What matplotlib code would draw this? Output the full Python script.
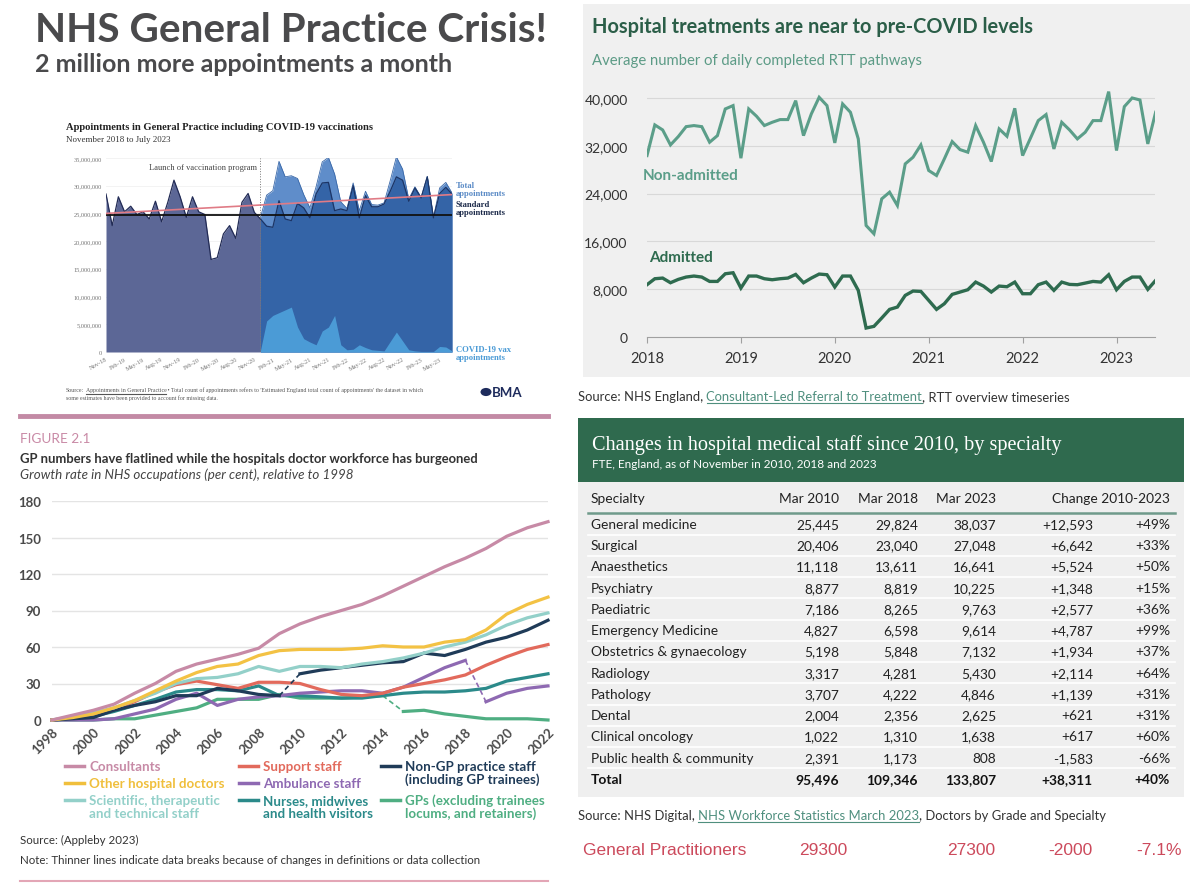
import matplotlib
matplotlib.use("Agg")
import matplotlib.pyplot as plt
from matplotlib.patches import Rectangle, Circle
from matplotlib.lines import Line2D
import matplotlib.ticker as mticker

plt.rcParams['font.family'] = ['Lato', 'DejaVu Sans']

W, H = 1200, 887

# ---------------- data: BMA appointments chart (millions) ----------------
bma_tick_labels = ["Nov-18", "Feb-19", "May-19", "Aug-19", "Nov-19", "Feb-20", "May-20",
                   "Aug-20", "Nov-20", "Feb-21", "May-21", "Aug-21", "Nov-21", "Feb-22",
                   "May-22", "Aug-22", "Nov-22", "Feb-23", "May-23"]
# Nov-18 .. Jul-23, one value a month
standard_appts = [28.5, 22.8, 28.0, 25.3, 26.3, 24.8, 25.3, 24.0, 27.2, 23.5, 27.0, 31.0,
                  28.0, 24.3, 28.0, 25.3, 24.8, 16.7, 17.0, 21.3, 22.8, 20.5, 27.0, 28.6,
                  25.2, 24.0, 22.7, 22.5, 27.3, 24.0, 23.7, 26.8, 26.0, 24.2, 28.5, 30.5,
                  30.6, 25.5, 25.8, 25.5, 30.0, 24.2, 28.2, 26.2, 26.2, 26.7, 29.0, 31.6,
                  31.0, 27.2, 29.6, 27.8, 31.6, 24.2, 28.6, 29.7, 28.5]
launch_month = 25  # Dec-20
# Dec-20 .. Jul-23
vax_appts = [0.3, 5.6, 6.6, 7.1, 7.6, 8.1, 4.5, 2.4, 1.8, 1.3, 3.8, 4.5, 6.6, 1.3, 0.4, 0.5,
             1.3, 0.8, 0.4, 0.3, 0.2, 1.9, 3.6, 2.0, 0.4, 0.2, 0.1, 0.1, 0.1, 1.0, 0.9, 0.2]
baseline_appts = 24.8
trend_appts = [25.0, 28.4]

# ---------------- data: RTT pathways ----------------
non_admitted = [30360, 35490, 34650, 32140, 33540, 35200, 35380, 35200, 32590, 33700, 38160,
                38720, 29920, 38160, 36940, 35380, 35930, 36380, 36380, 39550, 33700, 37330,
                40110, 38720, 32480, 39000, 37600, 33150, 18660, 17270, 23120, 24230, 22000,
                28970, 30080, 32140, 27860, 27020, 29810, 32700, 31360, 30920, 35380, 32590,
                29360, 34820, 33590, 38270, 30360, 33260, 36210, 37220, 31470, 35930, 34650,
                33150, 34260, 36210, 36210, 41060, 31200, 38550, 40000, 39660, 32310, 37600]
admitted = [8750, 9750, 9860, 9080, 9640, 10030, 10200, 10030, 9300, 9300, 10580, 10750,
            8190, 10200, 10200, 9750, 9580, 9750, 9860, 10470, 9080, 9860, 10530, 10420,
            8360, 10200, 10200, 7800, 1500, 1780, 3180, 4620, 5010, 6960, 7690, 7630, 6130,
            4620, 5570, 7130, 7520, 7910, 9190, 8520, 7520, 8520, 8410, 9190, 7240, 7240,
            8750, 9190, 7800, 9190, 8800, 8750, 9020, 9300, 9190, 10420, 7910, 9300, 10030,
            10030, 7970, 9470]
rtt_start_year = 2018

# ---------------- data: NHS occupations growth (% vs 1998) ----------------
years = list(range(1998, 2023))
consultants = [0, 4, 8, 13, 22, 30, 40, 46, 50, 54, 59, 71, 79, 85, 90, 95, 102, 110, 118,
               126, 133, 141, 151, 158, 163]
other_doctors = [0, 2, 5, 10, 16, 24, 32, 39, 44, 46, 53, 57, 58, 58, 58, 59, 61, 60, 60,
                 64, 66, 74, 87, 95, 101]
scientific = [0, 3, 6, 10, 16, 22, 30, 34, 35, 38, 44, 40, 44, 44, 43, 46, 48, 51, 55, 60,
              64, 70, 78, 84, 88]
non_gp_staff = [0, 1, 2, 8, 12, 15, 20, 20, 26, 24, 21, 20, 38, 41, 43, 45, 47, 48, 55, 53,
                58, 64, 68, 74, 82]
support = [0, 2, 5, 9, 15, 23, 29, 32, 29, 26, 31, 31, 30, 25, 21, 20, 22, 27, 30, 33, 37,
           45, 52, 58, 62]
ambulance = [0, 0, 0, 1, 5, 9, 17, 22, 12, 17, 19, 20, 22, 23, 24, 24, 22, 27, 35, 43, 49,
             15, 22, 26, 28]
nurses = [0, 1, 3, 7, 12, 17, 23, 25, 25, 24, 28, 20, 20, 19, 18, 18, 20, 22, 23, 23, 24,
          26, 32, 35, 38]
gps = [0, 0, 0, 1, 1, 4, 7, 10, 17, 17, 17, 21, 18, 18, 18, 19, 20, 7, 8, 5, 3, 1, 1, 1, 0]
# year after which the series has a data break
non_gp_break = 2009
ambulance_break = 2018
gp_break = 2014

# ---------------- data: hospital medical staff table ----------------
specialties = ["General medicine", "Surgical", "Anaesthetics", "Psychiatry", "Paediatric",
               "Emergency Medicine", "Obstetrics & gynaecology", "Radiology", "Pathology",
               "Dental", "Clinical oncology", "Public health & community"]
mar_2010 = [25445, 20406, 11118, 8877, 7186, 4827, 5198, 3317, 3707, 2004, 1022, 2391]
mar_2018 = [29824, 23040, 13611, 8819, 8265, 6598, 5848, 4281, 4222, 2356, 1310, 1173]
mar_2023 = [38037, 27048, 16641, 10225, 9763, 9614, 7132, 5430, 4846, 2625, 1638, 808]
change_abs = [12593, 6642, 5524, 1348, 2577, 4787, 1934, 2114, 1139, 621, 617, -1583]
change_pct = [49, 33, 50, 15, 36, 99, 37, 64, 31, 31, 60, -66]
totals = [95496, 109346, 133807, 38311, 40]
gp_row = ["General Practitioners", "29300", "27300", "-2000", "-7.1%"]


def fx(x):
    return x / W


def fy(y):
    return 1 - y / H


fig = plt.figure(figsize=(12, 8.87), dpi=100)
fig.patch.set_facecolor('white')


def add_axes_px(left, top, right, bottom):
    return fig.add_axes([fx(left), fy(bottom), (right - left) / W, (bottom - top) / H])


def rect_px(x0, y0, x1, y1, color, z=0):
    fig.add_artist(Rectangle((fx(x0), fy(y1)), (x1 - x0) / W, (y1 - y0) / H,
                             transform=fig.transFigure, facecolor=color, edgecolor='none',
                             zorder=z))


def hline_px(x0, x1, y, color, lw):
    fig.add_artist(Line2D([fx(x0), fx(x1)], [fy(y), fy(y)], color=color, lw=lw,
                          transform=fig.transFigure))


def rich_text(x, y, parts, size, family='Lato'):
    r = fig.canvas.get_renderer()
    a = fig.text(0, 0, "x x", fontsize=size, family=family).get_window_extent(r).width
    b = fig.text(0, 0, "xx", fontsize=size, family=family).get_window_extent(r).width
    fig.texts[-2:] = []
    space = a - b
    for s, color, underline, gap in parts:
        t = fig.text(fx(x), fy(y), s, fontsize=size, color=color, family=family,
                     va='baseline')
        bb = t.get_window_extent(r)
        if underline:
            hline_px(bb.x0, bb.x1, y + 2.5, color, 0.8)
        x += bb.width + (space if gap else 0)


# ================= top-left: headline + BMA chart =================
fig.text(fx(35), fy(42), "NHS General Practice Crisis!", fontsize=29.2, fontweight='bold',
         color='#4a4a4c', va='baseline')
fig.text(fx(35), fy(72), "2 million more appointments a month", fontsize=18,
         fontweight='bold', color='#4a4a4c', va='baseline')

serif = 'Liberation Serif'
fig.text(fx(66), fy(130), "Appointments in General Practice including COVID-19 vaccinations",
         fontsize=7.6, fontweight='bold', family=serif, color='#222222', va='baseline')
fig.text(fx(66), fy(142), "November 2018 to July 2023", fontsize=6.4, family=serif,
         color='#333333', va='baseline')

ax1 = add_axes_px(106, 159, 452, 353)
n = len(standard_appts)
months = list(range(n))
post = months[launch_month:]
std_post = standard_appts[launch_month:]
total_post = [s + v for s, v in zip(std_post, vax_appts)]
ax1.fill_between(months[:launch_month + 1], standard_appts[:launch_month + 1], color='#5c6796',
                 lw=0)
ax1.plot(months[:launch_month + 1], standard_appts[:launch_month + 1], color='#222b55', lw=0.9)
ax1.fill_between(post, total_post, color='#5f8dca', lw=0)
ax1.plot(post, total_post, color='#3a68a8', lw=0.6)
ax1.fill_between(post, std_post, color='#3464a7', lw=0)
ax1.plot(post, std_post, color='#1c3566', lw=0.9)
ax1.fill_between(post, vax_appts, color='#4b9bd6', lw=0)
ax1.plot([0, n - 1], [baseline_appts, baseline_appts], color='#111111', lw=1.3)
ax1.plot([0, n - 1], trend_appts, color='#e07b86', lw=1.2)
ax1.axvline(launch_month - 0.1, color='#777777', lw=0.7, ls=':')
ax1.text(launch_month - 0.6, 33.4, "Launch of vaccination program", fontsize=6.1, family=serif,
         color='#444444', ha='right', va='center')
ax1.set_xlim(0, n - 1)
ax1.set_ylim(0, 35)
ax1.set_yticks(range(0, 36, 5))
ax1.yaxis.set_major_formatter(mticker.FuncFormatter(lambda v, p: f"{int(v * 1e6):,}"))
ax1.set_xticks(months[::3])
ax1.set_xticklabels(bma_tick_labels, rotation=30, ha='right', rotation_mode='anchor')
ax1.tick_params(length=0, labelsize=4.6, colors='#777777', pad=3)
for lbl in ax1.get_xticklabels() + ax1.get_yticklabels():
    lbl.set_family(serif)
ax1.grid(axis='y', color='#eeeeee', lw=0.5)
ax1.set_axisbelow(True)
for s in ax1.spines.values():
    s.set_visible(False)

fig.text(fx(456), fy(188), "Total", fontsize=6.2, fontweight='bold', family=serif,
         color='#5b8bc6', va='baseline')
fig.text(fx(456), fy(196), "appointments", fontsize=6.2, fontweight='bold', family=serif,
         color='#5b8bc6', va='baseline')
fig.text(fx(456), fy(207), "Standard", fontsize=6.2, fontweight='bold', family=serif,
         color='#1c2a4a', va='baseline')
fig.text(fx(456), fy(215), "appointments", fontsize=6.2, fontweight='bold', family=serif,
         color='#1c2a4a', va='baseline')
fig.text(fx(456), fy(352), "COVID-19 vax", fontsize=6.2, fontweight='bold', family=serif,
         color='#4b9bd6', va='baseline')
fig.text(fx(456), fy(360), "appointments", fontsize=6.2, fontweight='bold', family=serif,
         color='#4b9bd6', va='baseline')

rich_text(66, 392, [("Source:", '#555555', False, True),
                    ("Appointments in General Practice", '#555555', True, False),
                    (" \u2022 Total count of appointments refers to 'Estimated England total "
                     "count of appointments' the dataset in which", '#555555', False, False)],
          4.2, family=serif)
fig.text(fx(66), fy(400), "some estimates have been provided to account for missing data.",
         fontsize=4.2, family=serif, color='#555555', va='baseline')
fig.add_artist(Circle((fx(486), fy(393)), 5.5 / W, transform=fig.transFigure,
                      facecolor='#1d2b5c', edgecolor='none'))
fig.text(fx(492), fy(393), "BMA", fontsize=9.5, fontweight='bold', color='#1d2b5c',
         va='center')

# ================= top-right: RTT chart =================
rect_px(583, 5, 1190, 378, '#f0f0f0')
fig.text(fx(592), fy(33), "Hospital treatments are near to pre-COVID levels", fontsize=14.4,
         fontweight='bold', color='#2b5e48', va='baseline')
fig.text(fx(592), fy(65), "Average number of daily completed RTT pathways", fontsize=10.7,
         color='#5c9b86', va='baseline')

ax2 = add_axes_px(647, 87, 1155, 338)
ax2.set_facecolor('none')
rtt_x = [rtt_start_year + i / 12 for i in range(len(non_admitted))]
ax2.plot(rtt_x, non_admitted, color='#5b9e89', lw=2.2, solid_joinstyle='miter')
ax2.plot(rtt_x, admitted, color='#2e6b4f', lw=2.4, solid_joinstyle='miter')
ax2.set_xlim(2018, 2023.41)
ax2.set_ylim(0, 42000)
ax2.set_yticks(range(0, 40001, 8000))
ax2.yaxis.set_major_formatter(mticker.FuncFormatter(lambda v, p: f"{int(v):,}"))
ax2.set_xticks(range(2018, 2024))
for yv in range(8000, 40001, 8000):
    ax2.axhline(yv, color='#d8d8d8', lw=0.8, zorder=0)
for s in ['top', 'right', 'left']:
    ax2.spines[s].set_visible(False)
ax2.spines['bottom'].set_color('#a0a0a0')
ax2.tick_params(axis='y', length=0, pad=14, labelsize=10, colors='#333333')
ax2.tick_params(axis='x', length=4, color='#a0a0a0', pad=6, labelsize=10.5,
                labelcolor='#333333')
fig.text(fx(643), fy(180), "Non-admitted", fontsize=11, fontweight='bold', color='#5b9e89',
         va='baseline')
fig.text(fx(649), fy(262), "Admitted", fontsize=11, fontweight='bold', color='#2e6b4f',
         va='baseline')
rich_text(578, 401, [("Source: NHS England,", '#333333', False, True),
                     ("Consultant-Led Referral to Treatment", '#4f8f7e', True, False),
                     (", RTT overview timeseries", '#333333', False, False)], 9.4)

# ================= bottom-left: occupations growth =================
pink = '#c38aa5'
hline_px(20, 548, 417, pink, 3.5)
hline_px(20, 548, 882, '#e3a6b6', 1.5)
fig.text(fx(20), fy(443), "FIGURE 2.1", fontsize=9.8, color='#c98aa6', va='baseline')
fig.text(fx(20), fy(463), "GP numbers have flatlined while the hospitals doctor workforce "
         "has burgeoned", fontsize=9.35, fontweight='bold', color='#333333', va='baseline')
fig.text(fx(20), fy(479), "Growth rate in NHS occupations (per cent), relative to 1998",
         fontsize=9.6, style='italic', color='#444444', va='baseline')

ax3 = add_axes_px(52, 502, 548, 721)
ax3.set_xlim(1998, 2022)
ax3.set_ylim(0, 180)
ax3.set_yticks(range(0, 181, 30))
ax3.set_xticks(range(1998, 2023, 2))
ax3.set_xticklabels([str(v) for v in range(1998, 2023, 2)], rotation=45, ha='right',
                    rotation_mode='anchor')
ax3.grid(axis='y', color='#e4e4e4', lw=1)
ax3.set_axisbelow(True)
for s in ax3.spines.values():
    s.set_visible(False)
ax3.tick_params(length=0, labelsize=9.5, colors='#4a4a4a')
ax3.tick_params(axis='y', pad=8)
ax3.tick_params(axis='x', pad=4)
for lbl in ax3.get_xticklabels() + ax3.get_yticklabels():
    lbl.set_fontweight('bold')

series = [
    ("GPs", gps, '#4fae82', gp_break),
    ("Nurses", nurses, '#2b8a8a', None),
    ("Ambulance", ambulance, '#8e69b2', ambulance_break),
    ("Support", support, '#e26a5c', None),
    ("Non-GP", non_gp_staff, '#1f3b58', non_gp_break),
    ("Scientific", scientific, '#93d0c9', None),
    ("Other doctors", other_doctors, '#f3c244', None),
    ("Consultants", consultants, '#c78aa6', None),
]
for name, vals, color, brk in series:
    if brk is None:
        ax3.plot(years, vals, color=color, lw=2.3, clip_on=False)
    else:
        i = years.index(brk)
        ax3.plot(years[:i + 1], vals[:i + 1], color=color, lw=2.3, clip_on=False)
        ax3.plot(years[i:i + 2], vals[i:i + 2], color=color, lw=1.2, ls=(0, (3, 2)))
        ax3.plot(years[i + 1:], vals[i + 1:], color=color, lw=2.3, clip_on=False)

legend_items = [
    (0, 0, ["Consultants"], '#c78aa6'),
    (0, 1, ["Other hospital doctors"], '#f0bf3c'),
    (0, 2, ["Scientific, therapeutic", "and technical staff"], '#93d0c9'),
    (1, 0, ["Support staff"], '#e26a5c'),
    (1, 1, ["Ambulance staff"], '#8e69b2'),
    (1, 2, ["Nurses, midwives", "and health visitors"], '#2b8a8a'),
    (2, 0, ["Non-GP practice staff", "(including GP trainees)"], '#1f3b58'),
    (2, 2, ["GPs (excluding trainees", "locums, and retainers)"], '#4fae82'),
]
col_mark = [65, 239, 381]
col_text = [89, 263, 405]
row_y = [767, 784, 801]
for col, row, lines, color in legend_items:
    y = row_y[row]
    hline_px(col_mark[col], col_mark[col] + 19, y, color, 2.5)
    for k, line in enumerate(lines):
        fig.text(fx(col_text[col]), fy(y + k * 13), line, fontsize=9.6, fontweight='bold',
                 color=color, va='center')

fig.text(fx(20), fy(844), "Source: (Appleby 2023)", fontsize=8.3, color='#333333',
         va='baseline')
fig.text(fx(20), fy(864), "Note: Thinner lines indicate data breaks because of changes in "
         "definitions or data collection", fontsize=8.3, color='#333333', va='baseline')

# ================= bottom-right: staff table =================
rect_px(578, 419, 1184, 483, '#2f6a4e')
rect_px(578, 483, 1184, 798, '#efefef')
fig.text(fx(592), fy(450), "Changes in hospital medical staff since 2010, by specialty",
         fontsize=14.6, family=serif, color='white', va='baseline')
fig.text(fx(592), fy(468), "FTE, England, as of November in 2010, 2018 and 2023",
         fontsize=8.5, color='white', va='baseline')

col_right = [839, 918, 996, 1093, 1170]
tsize = 9.9
tcol = '#222222'
fig.text(fx(591), fy(499), "Specialty", fontsize=tsize, color=tcol, va='center')
for xr, lab in zip(col_right[:3], ["Mar 2010", "Mar 2018", "Mar 2023"]):
    fig.text(fx(xr), fy(499), lab, fontsize=tsize, color=tcol, va='center', ha='right')
fig.text(fx(col_right[4]), fy(499), "Change 2010-2023", fontsize=tsize, color=tcol,
         va='center', ha='right')
hline_px(588, 1175, 514, '#6f9a8b', 1.8)

row_step = 21.25
for i, name in enumerate(specialties):
    y = 525 + i * row_step
    cells = [f"{mar_2010[i]:,}", f"{mar_2018[i]:,}", f"{mar_2023[i]:,}",
             f"{change_abs[i]:+,}", f"{change_pct[i]:+d}%"]
    fig.text(fx(591), fy(y), name, fontsize=tsize, color=tcol, va='center')
    for xr, c in zip(col_right, cells):
        fig.text(fx(xr), fy(y), c, fontsize=tsize, color=tcol, va='center', ha='right')
    hline_px(588, 1175, y + row_step / 2, '#ffffff', 1.2)
y = 525 + len(specialties) * row_step
tot_cells = [f"{totals[0]:,}", f"{totals[1]:,}", f"{totals[2]:,}", f"{totals[3]:+,}",
             f"{totals[4]:+d}%"]
fig.text(fx(591), fy(y), "Total", fontsize=tsize, color='#111111', va='center',
         fontweight='bold')
for xr, c in zip(col_right, tot_cells):
    fig.text(fx(xr), fy(y), c, fontsize=tsize, color='#111111', va='center', ha='right',
             fontweight='bold')

rich_text(578, 820, [("Source: NHS Digital,", '#333333', False, True),
                     ("NHS Workforce Statistics March 2023", '#4f8f7e', True, False),
                     (", Doctors by Grade and Specialty", '#333333', False, False)], 9.4)

red = '#cc4a5c'
gp_x = [583, 799, 947, 1048, 1182]
for k, (xv, s) in enumerate(zip(gp_x, gp_row)):
    fig.text(fx(xv), fy(851), s, fontsize=12.5, family='Liberation Sans', color=red,
             va='center', ha='right' if k == 4 else 'left')

fig.savefig("out.png", dpi=100)
